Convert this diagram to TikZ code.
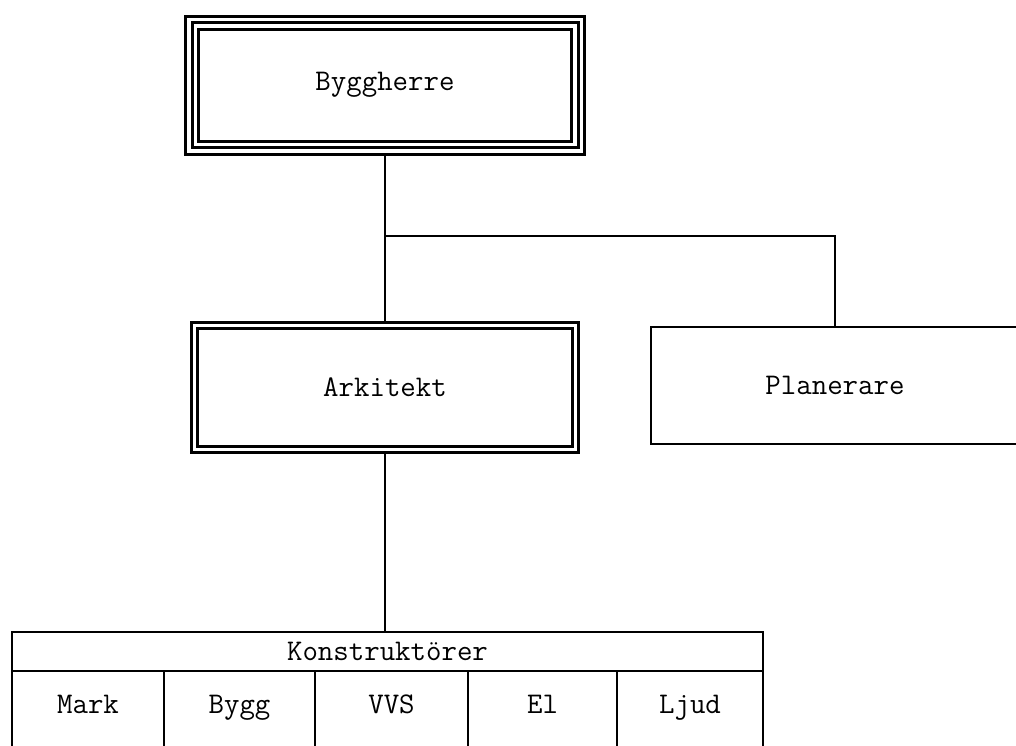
\documentclass[tikz,border=0pt]{standalone}
\usepackage{tikz}
\usetikzlibrary{positioning}

\begin{document}
\begin{tikzpicture}[
        x=0.5pt, y=-0.5pt,
        every node/.style={font=\ttfamily\fontsize{15}{18}\selectfont, inner sep=0pt},
        triplebox/.style={draw, line width=1.5pt, outer sep=3.25pt,
            preaction={draw, line width=8pt}, preaction={draw=white, line width=5pt}},
        doublebox/.style={draw, line width=1.5pt, double, double distance=1.75pt, outer sep=1.625pt},
        plainbox/.style={draw, line width=1.4pt, outer sep=0pt},
        cell/.style={plainbox, minimum height=42pt, text height=10pt, text depth=10pt},
        link/.style={line width=1.2pt}
    ]
        \useasboundingbox (0,0) rectangle (1016,745);
        \clip (0,0) rectangle (1016,745);

        \node[triplebox, minimum width=193pt, minimum height=62.5pt] (byggherre) at (385,85) {Byggherre};
        \node[doublebox, minimum width=190.5pt, minimum height=62pt] (arkitekt) at (385,387.5) {Arkitekt};
        \node[plainbox, minimum width=184pt, minimum height=58.5pt] (planerare) at (835,385.5) {Planerare};

        % konstruktörer med underavdelningar
        \node[plainbox, minimum width=375.5pt, minimum height=19.5pt] (konstr) at (387.5,651.5) {Konstruktörer};
        \node[cell, minimum width=76pt, below right=0pt of konstr.south west] (mark) {Mark};
        \node[cell, minimum width=75.5pt, right=0pt of mark] (bygg) {Bygg};
        \node[cell, minimum width=76.5pt, right=0pt of bygg] (vvs) {VVS};
        \node[cell, minimum width=74.5pt, right=0pt of vvs] (el) {El};
        \node[cell, minimum width=73pt, right=0pt of el] (ljud) {Ljud};

        \coordinate (split) at (385,236);
        \draw[link] (byggherre.south) -- (split);
        \draw[link] (split) -- (arkitekt.north);
        \draw[link] (split) -| (planerare.north);
        \draw[link] (arkitekt.south) -- (arkitekt.south |- konstr.north);
    \end{tikzpicture}
\end{document}
